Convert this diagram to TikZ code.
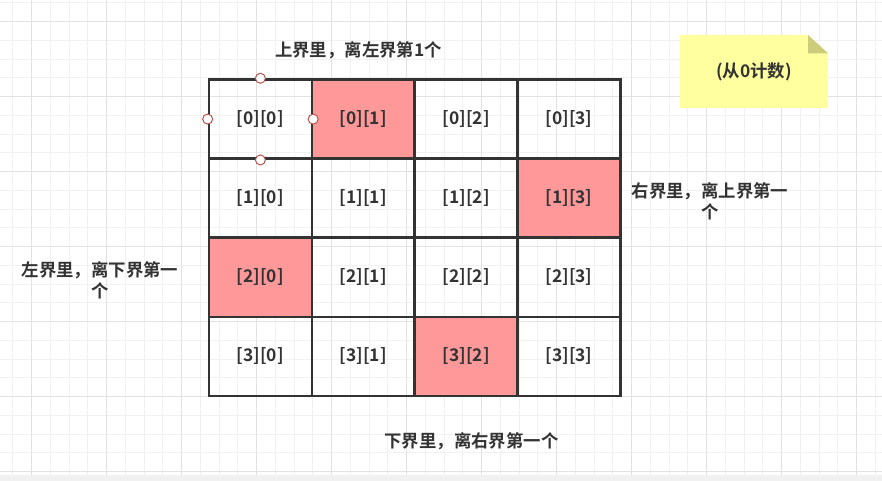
\documentclass[tikz,border=0pt]{standalone}
\usepackage{fontspec}
\setmainfont{Noto Sans CJK SC}[BoldFont={Noto Sans CJK SC Bold}]
\usepackage{tikz}
\definecolor{ink}{HTML}{333333}
\definecolor{hot}{HTML}{FF9999}
\definecolor{minorgrid}{HTML}{F1F1F1}
\definecolor{majorgrid}{HTML}{E2E2E2}
\definecolor{notebg}{HTML}{FFFF9F}
\definecolor{notefold}{HTML}{CCCC7A}
\definecolor{handlered}{HTML}{B85450}

\begin{document}
\begin{tikzpicture}[x=1pt,y=-1pt,
    cell/.style={draw=ink,line width=2.6pt,minimum width=102.9pt,minimum height=79.1pt,inner sep=0pt,text=ink,font=\fontsize{17.4}{21}\selectfont\bfseries},
    hotcell/.style={cell,fill=hot},
    handle/.style={circle,draw=handlered,fill=white,line width=1pt,minimum size=10pt,inner sep=0pt},
    lbl/.style={text=ink,align=center,font=\fontsize{17.4}{21}\selectfont\bfseries}]
  \useasboundingbox (0,0) rectangle (882,481);
  \fill[white] (0,0) rectangle (882,481);
  \foreach \k in {0,...,46} \draw[minorgrid,line width=1pt] (12.9+18.75*\k,0) -- (12.9+18.75*\k,475);
  \foreach \k in {0,...,25} \draw[minorgrid,line width=1pt] (0,2.9+18.75*\k) -- (882,2.9+18.75*\k);
  \foreach \k in {0,...,11} \draw[majorgrid,line width=1pt] (31.7+75*\k,0) -- (31.7+75*\k,475);
  \foreach \k in {0,...,6} \draw[majorgrid,line width=1pt] (0,21.7+75*\k) -- (882,21.7+75*\k);
  \fill[minorgrid] (0,475) rectangle (882,481);
  \foreach \i/\h in {0/1,1/3,2/0,3/2}
    \foreach \j in {0,...,3} {
      \ifnum\j=\h \def\st{hotcell}\else\def\st{cell}\fi
      \node[\st] (c\i\j) at (260.4+102.9*\j,119.1+79.1*\i) {[\i][\j]};
    }
  \foreach \a in {north,south,east,west} \node[handle] at (c00.\a) {};
  \fill[notebg] (680,35) -- (808,35) -- (828,53.3) -- (828,108) -- (680,108) -- cycle;
  \fill[notefold] (808,35) -- (808,53.3) -- (828,53.3) -- cycle;
  \node[lbl] (note) at (754,72) {(从0计数)};
  \node[lbl] (toplbl) at (358.5,50) {上界里，离左界第1个};
  \node[lbl] (rightlbl) at (710,200.8) {右界里，离上界第一\\个};
  \node[lbl] (leftlbl) at (100,280) {左界里，离下界第一\\个};
  \node[lbl] (bottomlbl) at (471.5,441.7) {下界里，离右界第一个};
\end{tikzpicture}
\end{document}
